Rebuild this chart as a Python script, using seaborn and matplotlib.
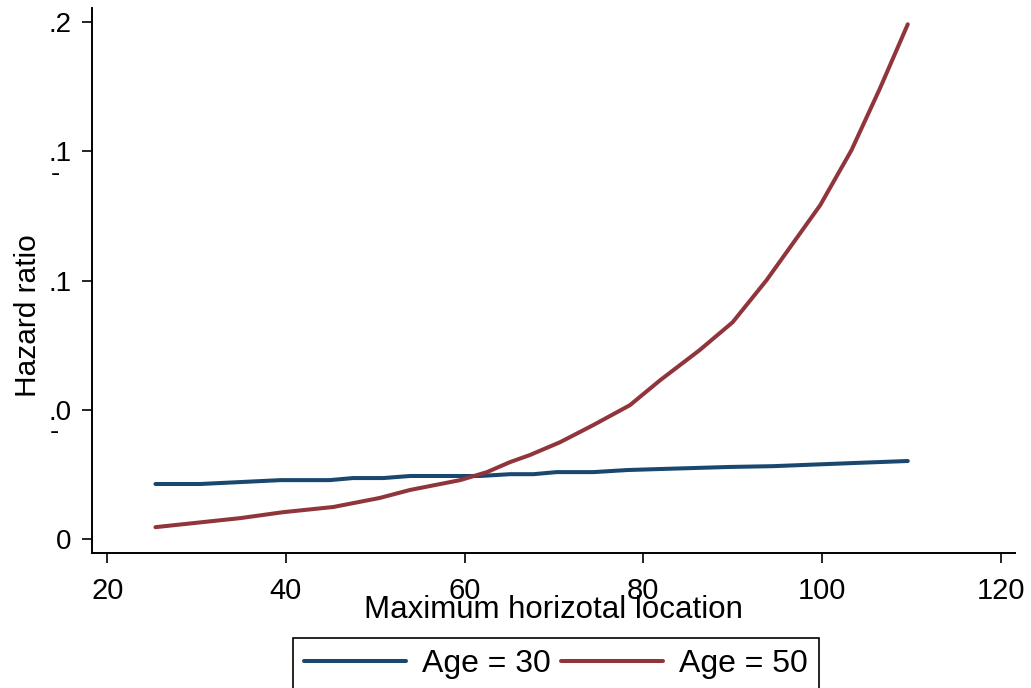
import matplotlib
matplotlib.use("Agg")
import matplotlib.pyplot as plt
import seaborn as sns
import pandas as pd

# ---- data ----
x_age30 = [25.4, 30.4, 39.4, 44.9, 47.5, 50.9, 53.9, 61.7, 65.1, 67.7, 70.3, 74.4, 78.2, 81.9, 89.7, 94.5, 103.4, 109.6]
hr_age30 = [1.0213, 1.0213, 1.0228, 1.0228, 1.0236, 1.0236, 1.0244, 1.0244, 1.0251, 1.0251, 1.0259, 1.0259, 1.0267, 1.0271, 1.0279, 1.0282, 1.0294, 1.0302]

x_age50 = [25.4, 34.9, 39.7, 45.3, 50.5, 53.9, 59.5, 62.5, 65.1, 67.3, 70.7, 74.4, 78.5, 81.9, 86.3, 90.0, 93.8, 99.8, 103.3, 106.5, 109.6]
hr_age50 = [1.0046, 1.0081, 1.0104, 1.0124, 1.0159, 1.0190, 1.0228, 1.0259, 1.0298, 1.0325, 1.0375, 1.0441, 1.0518, 1.0615, 1.0731, 1.0839, 1.1002, 1.1292, 1.1505, 1.1745, 1.1992]

series_labels = ["Age = 30", "Age = 50"]
series_colors = ["#1a476f", "#90353b"]

x_ticks = [20, 40, 60, 80, 100, 120]
y_ticks = [1.0, 1.05, 1.1, 1.15, 1.2]
y_ticklabels = ["0", ".0", ".1", ".1", ".2"]

x_label = "Maximum horizotal location"
y_label = "Hazard ratio"

df = pd.concat([
    pd.DataFrame({"x": x_age30, "hr": hr_age30, "group": series_labels[0]}),
    pd.DataFrame({"x": x_age50, "hr": hr_age50, "group": series_labels[1]}),
], ignore_index=True)

sns.set_style("white")
plt.rcParams["font.family"] = ["Liberation Sans", "DejaVu Sans"]
plt.rcParams["text.color"] = "black"
plt.rcParams["axes.labelcolor"] = "black"
plt.rcParams["xtick.color"] = "black"
plt.rcParams["ytick.color"] = "black"

fig = plt.figure(figsize=(10.31, 6.88), dpi=100)
ax = fig.add_axes([92 / 1031, 135 / 688, 923 / 1031, 545 / 688])

sns.lineplot(data=df, x="x", y="hr", hue="group", palette=series_colors,
             linewidth=2.9, ax=ax, legend=False, sort=False, estimator=None)

ax.set_xlim(18.3, 121.6)
ax.set_ylim(0.9946, 1.2055)
ax.set_xticks(x_ticks)
ax.set_xticklabels([str(t) for t in x_ticks])
ax.set_yticks(y_ticks)
ax.set_yticklabels(y_ticklabels)

for side in ["top", "right"]:
    ax.spines[side].set_visible(False)
for side in ["left", "bottom"]:
    ax.spines[side].set_color("black")
    ax.spines[side].set_linewidth(1.4)

ax.tick_params(axis="x", which="major", direction="out", length=7.5, width=1.2,
               color="black", labelcolor="black", labelsize=21, pad=9.5, bottom=True)
ax.tick_params(axis="y", which="major", direction="out", length=7.5, width=1.2,
               color="black", labelcolor="black", labelsize=20, pad=7, left=True)
ax.grid(False)

ax.set_xlabel(x_label, fontsize=22.5, labelpad=-7)
ax.set_ylabel(y_label, fontsize=21.5)
ax.yaxis.set_label_coords(-0.054, 0.436)

# small fragments visible beside two y tick labels in the reference
fig.text(55 / 1031, 1 - 174 / 688, "-", fontsize=20, ha="center", va="center")
fig.text(54 / 1031, 1 - 432 / 688, "-", fontsize=20, ha="center", va="center")

handles = [plt.Line2D([], [], color=c, linewidth=2.9) for c in series_colors]
leg = fig.legend(handles, series_labels, loc="upper center",
                 bbox_to_anchor=(556 / 1031, 50 / 688), ncol=2, fontsize=23,
                 frameon=True, fancybox=False, edgecolor="black", framealpha=1,
                 handlelength=3.2, handletextpad=0.5, columnspacing=0.3,
                 borderpad=0.35, borderaxespad=0)
leg.get_frame().set_linewidth(1.2)

fig.savefig("out.png", dpi=100)
